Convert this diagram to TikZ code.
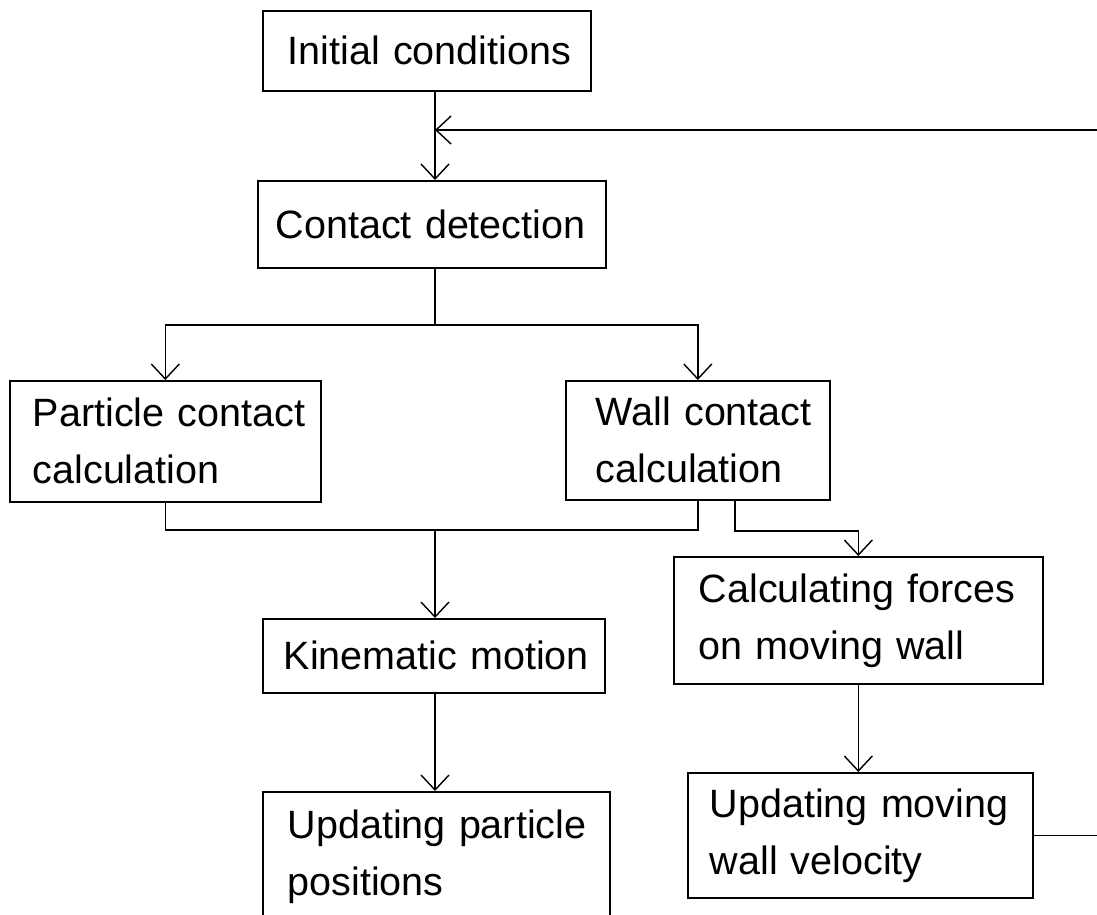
\documentclass[tikz,border=0pt]{standalone}
\usepackage{fontspec}
\setmainfont{Liberation Sans}
\usetikzlibrary{arrows.meta}
\newcommand{\padx}[1]{\hspace*{#1pt}}
\begin{document}
\begin{tikzpicture}[x=1pt,y=-1pt,
  box/.style={draw, line width=1.6pt, inner xsep=0pt, inner ysep=0pt,
    anchor=north west, align=left, font=\fontsize{39.5}{57}\selectfont},
  conn/.style={line width=1.4pt},
  arr/.style={conn, -{Straight Barb[length=15pt,width=28pt,line width=1.4pt]}}]
\useasboundingbox (0,0) rectangle (1097,915);
\clip (0,0) rectangle (1097,915);
% boxes
\node[box, text width=328pt, minimum height=80pt] (ic) at (262,10) {\padx{25}Initial conditions};
\node[box, text width=348pt, minimum height=87pt] (cd) at (257,180) {\padx{18}Contact detection};
\node[box, text width=311pt, minimum height=121pt] (pc) at (9,380) {\padx{23}Particle contact\\\padx{23}calculation};
\node[box, text width=264pt, minimum height=119pt] (wc) at (565,380) {\padx{30}Wall contact\\\padx{30}calculation};
\node[box, text width=342pt, minimum height=74pt] (km) at (262,618) {\padx{21}Kinematic motion};
\node[box, text width=369pt, minimum height=127pt] (cf) at (673,556) {\padx{25}Calculating forces\\\padx{25}on moving wall};
\node[box, text width=347pt, minimum height=130pt] (up) at (262,791) {\padx{25}Updating particle\\\padx{25}positions};
\node[box, text width=345pt, minimum height=125pt] (uw) at (687,772) {\padx{22}Updating moving\\\padx{22}wall velocity};
% helper coordinates
\coordinate (mx) at (435,0);
\coordinate (fbin) at (1097,130);
\coordinate (edge) at (1097,0);
\coordinate (split) at (435,325);
\coordinate (merge) at (435,530);
\coordinate (wcx) at (735,531);
% connectors
\draw[arr] (ic.south -| mx) -- (cd.north -| mx);
\draw[arr] (fbin) -- (fbin -| mx);
\draw[conn] (cd.south -| split) -- (split);
\draw[arr] (split) -| (pc.north);
\draw[arr] (split) -| (wc.north);
\draw[conn] (pc.south) |- (merge) -| (wc.south);
\draw[arr] (merge) -- (km.north -| merge);
\draw[arr] (wc.south -| wcx) -- (wcx) -| (cf.north);
\draw[arr] (km.south -| mx) -- (up.north -| mx);
\draw[arr] (cf.south) -- (cf.south |- uw.north);
\draw[conn] (uw.east) -- (uw.east -| edge);
\end{tikzpicture}
\end{document}
